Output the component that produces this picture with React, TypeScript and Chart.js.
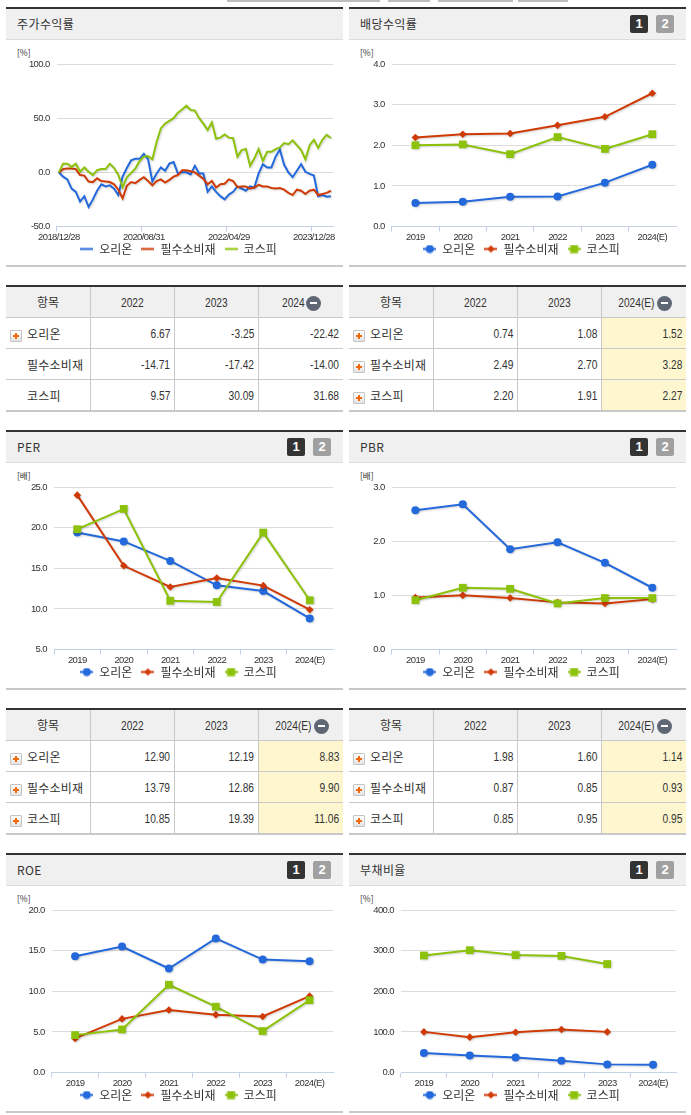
import React, { useEffect, useRef } from "react";
import { Chart, registerables } from "chart.js";

Chart.register(...registerables);

const seriesNames = ["오리온", "필수소비재", "코스피"];
const seriesColors = ["#2369dc", "#cf3a05", "#8cc20a"];
const years = ["2019", "2020", "2021", "2022", "2023", "2024(E)"];

const priceDates = [
  "2018/12/28","2019/01/31","2019/02/28","2019/03/29","2019/04/30","2019/05/31","2019/06/28","2019/07/31","2019/08/30","2019/09/30",
  "2019/10/31","2019/11/29","2019/12/30","2020/01/31","2020/02/28","2020/03/31","2020/04/29","2020/05/29","2020/06/30","2020/07/31",
  "2020/08/31","2020/09/29","2020/10/30","2020/11/30","2020/12/30","2021/01/29","2021/02/26","2021/03/31","2021/04/30","2021/05/31",
  "2021/06/30","2021/07/30","2021/08/31","2021/09/30","2021/10/29","2021/11/30","2021/12/30","2022/01/28","2022/02/28","2022/03/31",
  "2022/04/29","2022/05/31","2022/06/30","2022/07/29","2022/08/31","2022/09/30","2022/10/31","2022/11/30","2022/12/29","2023/01/31",
  "2023/02/28","2023/03/31","2023/04/28","2023/05/31","2023/06/30","2023/07/31","2023/08/31","2023/09/27","2023/10/31","2023/11/30",
  "2023/12/28","2024/01/31","2024/02/29","2024/03/29","2024/04/30",
];
const priceOrion = [
  0,-4,-6.5,-15,-18,-27,-22,-32,-25,-17,-11,-13,-12,-15,-21,-4,4,11,12.5,12.5,
  17,12,-8.5,-1,4.5,1.5,8,9.5,-1,0,0,-2,6,-1,-1,-18,-13,-18,-22,-25,
  -20.5,-18,-13,-15,-17,-13,-14,-1,7.5,4.5,4.5,14.5,21,7,0,-4.5,1.5,7.5,0.5,-1.5,
  -3,-22,-21,-22.5,-22,
];
const priceStaples = [
  0,3,3.5,3.5,3,-2.5,-3,-8.5,-9,-5.5,-8,-8.5,-9,-11,-16,-24,-12.5,-9,-10,-7,
  -4.5,-8,-12,-8,-6.5,-9.5,-7,-4,-2.5,2,2,1,0,-3,-6,-11,-8,-14,-11,-10.5,
  -6.5,-8,-13.5,-13,-13,-15,-14,-11.5,-13,-13,-14.5,-15,-14.5,-16,-19,-21,-16,-17,-20,-17,
  -16,-21,-20,-19,-17,
];
const priceKospi = [
  0,8,8,5,8,0.5,4.5,0.5,-2.5,2,3,3,8,4,-2.5,-14,-4.5,-0.5,3.5,10.5,
  14.5,15,12,28,40.5,45,47.5,50,55,58,61.5,57.5,57,50,45,39,46,31,32,35,
  32,31.5,14.5,20.5,21.5,6,13,21.5,10.5,19,19,21.5,23,27,26,29.5,25,20.5,12,25,
  30,22.5,30,34.5,31.7,
];

const dividendOrion = [0.58, 0.61, 0.73, 0.74, 1.08, 1.52];
const dividendStaples = [2.19, 2.27, 2.29, 2.49, 2.7, 3.28];
const dividendKospi = [2.0, 2.02, 1.78, 2.2, 1.91, 2.27];
const perOrion = [19.4, 18.3, 15.9, 12.9, 12.19, 8.83];
const perStaples = [24, 15.3, 12.7, 13.79, 12.86, 9.9];
const perKospi = [19.8, 22.3, 11.0, 10.85, 19.39, 11.06];
const pbrOrion = [2.57, 2.68, 1.85, 1.98, 1.6, 1.14];
const pbrStaples = [0.96, 1.0, 0.95, 0.87, 0.85, 0.93];
const pbrKospi = [0.91, 1.14, 1.12, 0.85, 0.95, 0.95];
const roeOrion = [14.3, 15.5, 12.8, 16.5, 13.9, 13.7];
const roeStaples = [4.2, 6.6, 7.7, 7.1, 6.9, 9.4];
const roeKospi = [4.6, 5.3, 10.8, 8.1, 5.1, 8.9];
const debtOrion = [48, 42, 37, 29, 20, 19];
const debtStaples = [100, 87, 99, 106, 100, null];
const debtKospi = [288, 301, 289, 287, 267, null];

const priceTable = [["6.67", "-3.25", "-22.42"], ["-14.71", "-17.42", "-14.00"], ["9.57", "30.09", "31.68"]];
const dividendTable = [["0.74", "1.08", "1.52"], ["2.49", "2.70", "3.28"], ["2.20", "1.91", "2.27"]];
const perTable = [["12.90", "12.19", "8.83"], ["13.79", "12.86", "9.90"], ["10.85", "19.39", "11.06"]];
const pbrTable = [["1.98", "1.60", "1.14"], ["0.87", "0.85", "0.93"], ["0.85", "0.95", "0.95"]];

const KR = '"Noto Sans CJK KR","Noto Sans",sans-serif';
const LATIN = '"Liberation Sans",Arial,sans-serif';
const AXIS = "#c3d2e4";

function legendIcon(color: string, kind: string) {
  const c = document.createElement("canvas");
  c.width = 13;
  c.height = 9;
  const x = c.getContext("2d")!;
  x.fillStyle = color;
  x.fillRect(0, 3.5, 13, 2);
  if (kind === "circle") {
    x.beginPath();
    x.arc(6.5, 4.5, 4, 0, Math.PI * 2);
    x.fill();
  } else if (kind === "rectRot") {
    x.beginPath();
    x.moveTo(6.5, 0.8);
    x.lineTo(10.2, 4.5);
    x.lineTo(6.5, 8.2);
    x.lineTo(2.8, 4.5);
    x.closePath();
    x.fill();
  } else if (kind === "rect") {
    x.fillRect(2.5, 0.5, 8, 8);
  }
  return c;
}

const softPlugin = {
  id: "softShadow",
  afterLayout(chart: any) {
    // place the legend under the axis labels, and tighten the axis numerals
    chart.legend.top = 194;
    chart.legend.left += 5;
    chart.legend.right += 5;
    for (const id of ["x", "y"]) {
      const s = chart.scales[id];
      if (s.__tight) continue;
      s.__tight = true;
      const orig = s.drawLabels.bind(s);
      s.drawLabels = (area: any) => {
        const ctx = chart.ctx;
        ctx.letterSpacing = "-0.6px";
        orig(area);
        ctx.letterSpacing = "0px";
      };
    }
  },
  beforeDatasetsDraw(chart: any) {
    const ctx = chart.ctx;
    ctx.save();
    ctx.shadowColor = "rgba(0,0,0,0.18)";
    ctx.shadowBlur = 2;
    ctx.shadowOffsetX = 1;
    ctx.shadowOffsetY = 1;
  },
  afterDatasetsDraw(chart: any) {
    chart.ctx.restore();
  },
};

const kinds = ["circle", "rectRot", "rect"];
const radii = [4, 3.8, 5.5];

function LineChart(props: any) {
  const { x, y, plotLeft, labels, series, min, max, step, markers, every } = props;
  const ref = useRef<HTMLCanvasElement>(null);
  useEffect(() => {
    const chart = new Chart(ref.current!, {
      type: "line",
      data: {
        labels,
        datasets: series.map((values: any, i: number) => ({
          label: seriesNames[i],
          data: values,
          borderColor: seriesColors[i],
          backgroundColor: seriesColors[i],
          borderWidth: 2,
          tension: 0,
          order: 3 - i,
          pointStyle: kinds[i],
          pointRadius: markers ? radii[i] : 0,
          pointHoverRadius: markers ? radii[i] : 0,
          pointBorderWidth: 0,
          clip: false,
        })),
      },
      plugins: [softPlugin],
      options: {
        animation: false,
        responsive: false,
        events: [],
        layout: { autoPadding: false, padding: { left: 8, top: 24, right: 10, bottom: -12.5 } },
        plugins: {
          tooltip: { enabled: false },
          title: { display: false },
          legend: {
            display: true,
            position: "bottom",
            labels: {
              color: "#333",
              font: { family: KR, size: 12 },
              padding: 9,
              usePointStyle: true,
              pointStyleWidth: 13,
              sort: (a: any, b: any) => a.datasetIndex - b.datasetIndex,
              generateLabels: (c: any) =>
                c.data.datasets.map((d: any, i: number) => ({
                  text: d.label,
                  fontColor: "#333",
                  fillStyle: seriesColors[i],
                  strokeStyle: seriesColors[i],
                  lineWidth: 0,
                  hidden: false,
                  datasetIndex: i,
                  pointStyle: legendIcon(seriesColors[i], markers ? kinds[i] : "line"),
                })),
            },
          },
        },
        scales: {
          x: {
            type: "category",
            offset: true,
            afterFit: (s: any) => {
              s.height = 20;
            },
            border: { display: true, color: AXIS, width: 1 },
            grid: {
              offset: true,
              drawOnChartArea: false,
              drawTicks: true,
              tickLength: 5,
              color: (c: any) => (c.index % every === 0 ? AXIS : "rgba(0,0,0,0)"),
            },
            ticks: {
              autoSkip: false,
              maxRotation: 0,
              minRotation: 0,
              padding: 0,
              color: "#333",
              font: { family: LATIN, size: 9.5 },
              callback: (_v: any, i: number) => (i % every === 0 ? labels[i] : ""),
            },
          },
          y: {
            min,
            max,
            afterFit: (s: any) => {
              s.width = plotLeft - x - 8;
            },
            border: { display: false },
            grid: { color: "#dcdcdc", drawTicks: false, lineWidth: 1 },
            ticks: {
              stepSize: step,
              padding: 7,
              color: "#333",
              font: { family: LATIN, size: 9.5 },
              callback: (v: any) => Number(v).toFixed(1),
            },
          },
        },
      } as any,
    });
    return () => chart.destroy();
  }, []);
  return (
    <canvas
      ref={ref}
      width={337}
      height={225}
      style={{ position: "absolute", left: x, top: y, width: 337, height: 225 }}
    />
  );
}

function box(left: number, top: number, width: number, height: number, background: string, extra: any = {}) {
  return { position: "absolute", left, top, width, height, background, ...extra } as any;
}

function Panel(props: any) {
  const { x, top, title, unit, buttons, children } = props;
  const btn = {
    borderRadius: 2, color: "#fff", fontFamily: LATIN, fontSize: 13,
    fontWeight: 700, textAlign: "center", lineHeight: "18px",
  };
  return (
    <>
      <div style={box(x, top, 337, 2, "#333")} />
      <div style={box(x, top + 2, 337, 30, "#f0f0f0")} />
      <div style={box(x, top + 32, 337, 1, "#dcdcdc")} />
      <div style={box(x, top + 258, 337, 2, "#c8c8c8")} />
      <div
        style={{
          position: "absolute", left: x + 11, top: top + 8, fontFamily: KR, fontSize: 12,
          letterSpacing: 0.4, lineHeight: "18px", color: "#333", whiteSpace: "nowrap",
        }}
      >
        {title}
      </div>
      {buttons && (
        <>
          <div style={box(x + 281, top + 8, 18, 18, "#333", btn)}>1</div>
          <div style={box(x + 307, top + 8, 18, 18, "#a0a0a0", btn)}>2</div>
        </>
      )}
      <div
        style={{
          position: "absolute", left: x + 11, top: top + 39, fontFamily: KR, fontSize: 8.5,
          lineHeight: "12px", color: "#333", whiteSpace: "nowrap",
        }}
      >
        {unit}
      </div>
      {children}
    </>
  );
}

function PlusIcon({ left, top }: any) {
  return (
    <div style={box(left, top, 10, 10, "linear-gradient(#fff,#e4e4e4)", { border: "1px solid #c4c4c4", borderRadius: 1 })}>
      <div style={box(2, 4, 6, 2, "#f0690f")} />
      <div style={box(4, 2, 2, 6, "#f0690f")} />
    </div>
  );
}

function Squeezed({ text, origin }: any) {
  return (
    <span style={{ display: "inline-block", transform: "scaleX(0.85)", transformOrigin: origin }}>{text}</span>
  );
}

function DataTable(props: any) {
  const { x, top, head, rows, icons, highlight } = props;
  const cols = [0, 84, 168, 252, 337];
  const rowTop = (i: number) => 32 + i * 31;
  const textBase: any = { position: "absolute", whiteSpace: "nowrap", color: "#333" };
  const lastHeadWidth = head[2].length > 4 ? 39 : 23;
  return (
    <>
      <div style={box(x, top, 337, 2, "#333")} />
      <div style={box(x, top + 2, 337, 30, "#f0f0f0")} />
      {highlight && <div style={box(x + cols[3], top + 33, 85, 92, "#fdf6cf")} />}
      {[0, 1, 2].map((i) => (
        <div key={i} style={box(x, top + rowTop(i), 337, 1, "#c8c8c8")} />
      ))}
      <div style={box(x, top + 125, 337, 2, "#c8c8c8")} />
      {[1, 2, 3].map((i) => (
        <div key={i} style={box(x + cols[i], top + 2, 1, 123, "#c8c8c8")} />
      ))}
      <div style={{ ...textBase, left: x, width: 84, top: top + 8, textAlign: "center", fontFamily: KR, fontSize: 12, lineHeight: "18px" }}>항목</div>
      {head.slice(0, 2).map((h: string, i: number) => (
        <div key={h} style={{ ...textBase, left: x + cols[i + 1], width: 84, top: top + 9, textAlign: "center", fontFamily: LATIN, fontSize: 12, lineHeight: "18px" }}>
          <Squeezed text={h} origin="center" />
        </div>
      ))}
      <div style={{ position: "absolute", left: x + cols[3], width: 85, top: top + 9, height: 18, display: "flex", justifyContent: "center", alignItems: "center", gap: 3 }}>
        <div style={{ width: lastHeadWidth, textAlign: "center", whiteSpace: "nowrap", color: "#333", fontFamily: LATIN, fontSize: 12, lineHeight: "18px" }}>
          <Squeezed text={head[2]} origin="center" />
        </div>
        <div style={{ position: "relative", width: 15, height: 15, borderRadius: "50%", background: "#5f6674", flex: "none" }}>
          <div style={box(4, 6.5, 7, 2, "#fff")} />
        </div>
      </div>
      {rows.map((vals: string[], r: number) => (
        <React.Fragment key={r}>
          {icons[r] && <PlusIcon left={x + 4} top={top + rowTop(r) + 13} />}
          <div style={{ ...textBase, left: x + 21, top: top + rowTop(r) + 8, fontFamily: KR, fontSize: 12, letterSpacing: 0.2, lineHeight: "18px" }}>{seriesNames[r]}</div>
          {vals.map((v: string, c: number) => (
            <div key={c} style={{ ...textBase, left: x + cols[c + 1], width: cols[c + 2] - cols[c + 1] - 4, top: top + rowTop(r) + 8, textAlign: "right", fontFamily: LATIN, fontSize: 12, lineHeight: "18px" }}>
              <Squeezed text={v} origin="right" />
            </div>
          ))}
        </React.Fragment>
      ))}
    </>
  );
}

export default function App() {
  const L = 6;
  const R = 349;
  const allIcons = [true, true, true];
  return (
    <div style={{ position: "absolute", left: 0, top: 0, width: 691, height: 1115, overflow: "hidden", background: "#fff" }}>
      <style>{"html,body{margin:0;padding:0;background:#fff;overflow:hidden}"}</style>
      <div style={box(227, 0, 153, 2, "#bdbdbd")} />
      <div style={box(388, 0, 42, 2, "#bdbdbd")} />
      <div style={box(438, 0, 75, 2, "#bdbdbd")} />
      <div style={box(518, 0, 50, 2, "#bdbdbd")} />

      <Panel x={L} top={7} title="주가수익률" unit="[%]" buttons={false}>
        <LineChart x={L} y={40} plotLeft={56.7} labels={priceDates} series={[priceOrion, priceStaples, priceKospi]} min={-50} max={100} step={50} markers={false} every={20} />
      </Panel>
      <Panel x={R} top={7} title="배당수익률" unit="[%]" buttons>
        <LineChart x={R} y={40} plotLeft={391.7} labels={years} series={[dividendOrion, dividendStaples, dividendKospi]} min={0} max={4} step={1} markers every={1} />
      </Panel>
      <DataTable x={L} top={285} head={["2022", "2023", "2024"]} rows={priceTable} icons={[true, false, false]} highlight={false} />
      <DataTable x={R} top={285} head={["2022", "2023", "2024(E)"]} rows={dividendTable} icons={allIcons} highlight />

      <Panel x={L} top={430} title="PER" unit="[배]" buttons>
        <LineChart x={L} y={463} plotLeft={54} labels={years} series={[perOrion, perStaples, perKospi]} min={5} max={25} step={5} markers every={1} />
      </Panel>
      <Panel x={R} top={430} title="PBR" unit="[배]" buttons>
        <LineChart x={R} y={463} plotLeft={391.7} labels={years} series={[pbrOrion, pbrStaples, pbrKospi]} min={0} max={3} step={1} markers every={1} />
      </Panel>
      <DataTable x={L} top={708} head={["2022", "2023", "2024(E)"]} rows={perTable} icons={allIcons} highlight />
      <DataTable x={R} top={708} head={["2022", "2023", "2024(E)"]} rows={pbrTable} icons={allIcons} highlight />

      <Panel x={L} top={853} title="ROE" unit="[%]" buttons>
        <LineChart x={L} y={886} plotLeft={51.7} labels={years} series={[roeOrion, roeStaples, roeKospi]} min={0} max={20} step={5} markers every={1} />
      </Panel>
      <Panel x={R} top={853} title="부채비율" unit="[%]" buttons>
        <LineChart x={R} y={886} plotLeft={401} labels={years} series={[debtOrion, debtStaples, debtKospi]} min={0} max={400} step={100} markers every={1} />
      </Panel>
    </div>
  );
}
